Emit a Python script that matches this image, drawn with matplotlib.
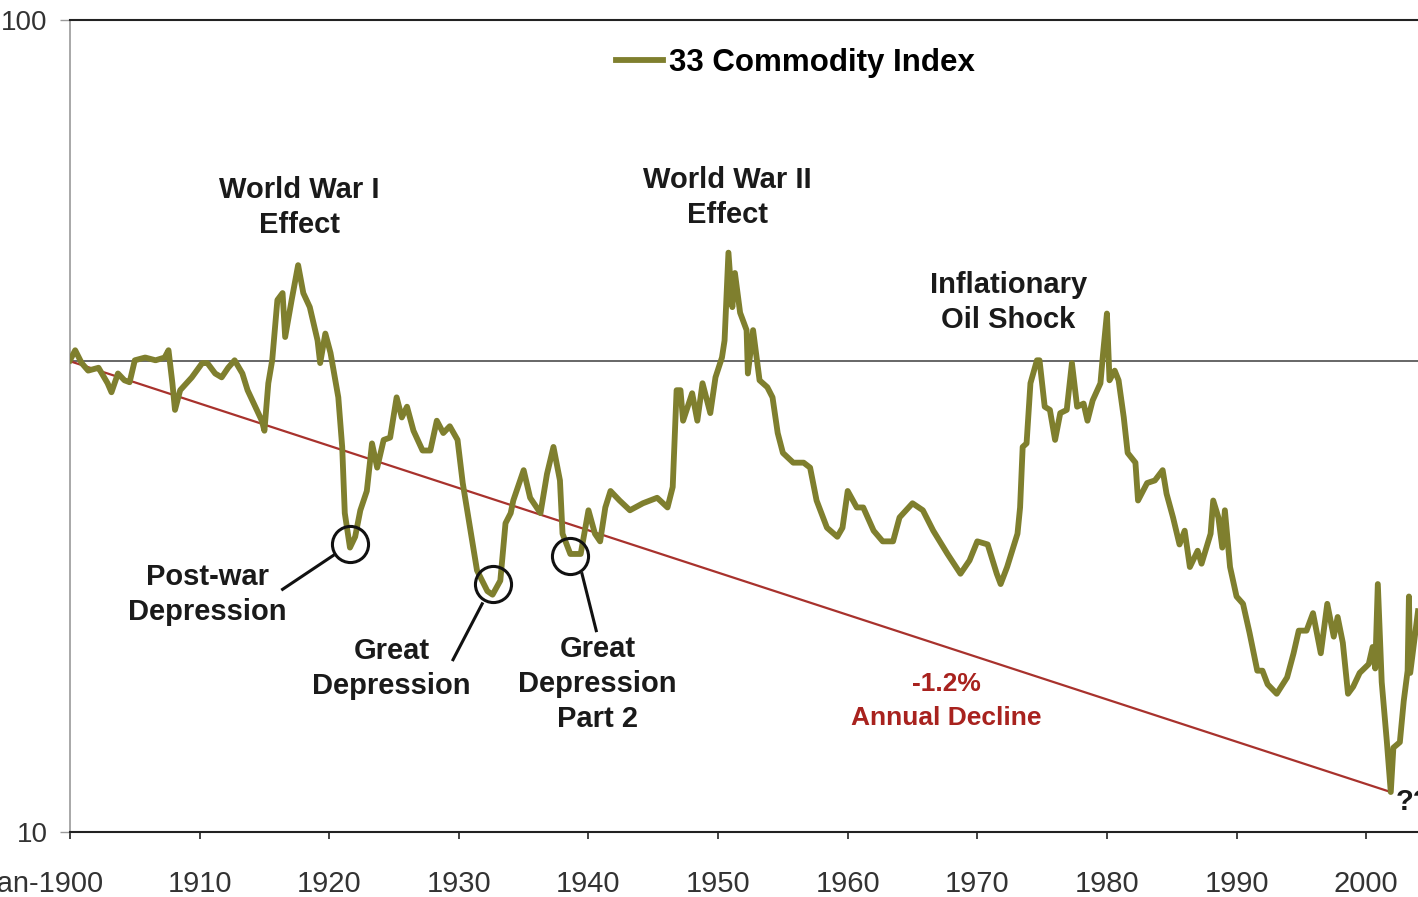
import numpy as np
import matplotlib.pyplot as plt
from matplotlib.ticker import NullLocator
from matplotlib.transforms import ScaledTranslation

plt.rcParams['font.family'] = ['Liberation Sans', 'DejaVu Sans']

# index levels (log scale)
years = [1900.0, 1900.4, 1900.9, 1901.4, 1902.2, 1902.9, 1903.2, 1903.7, 1904.2, 1904.6,
         1905.0, 1905.8, 1906.6, 1907.3, 1907.6, 1907.9, 1908.1, 1908.5, 1909.4, 1910.2,
         1910.6, 1911.2, 1911.7, 1912.2, 1912.7, 1913.3, 1913.7, 1914.3, 1914.8, 1915.0,
         1915.3, 1915.6, 1916.0, 1916.4, 1916.6, 1917.1, 1917.6, 1918.0, 1918.5, 1919.1,
         1919.3, 1919.7, 1920.1, 1920.3, 1920.7, 1921.0, 1921.2, 1921.6, 1922.0, 1922.4,
         1922.9, 1923.3, 1923.7, 1924.2, 1924.7, 1925.2, 1925.6, 1926.0, 1926.5, 1927.2,
         1927.8, 1928.3, 1928.8, 1929.3, 1929.9, 1930.3, 1930.9, 1931.4, 1932.2, 1932.6,
         1933.2, 1933.6, 1934.0, 1934.2, 1935.0, 1935.5, 1936.3, 1936.8, 1937.3, 1937.8,
         1938.0, 1938.6, 1939.4, 1940.0, 1940.5, 1940.9, 1941.3, 1941.7, 1942.4, 1943.2,
         1944.2, 1945.3, 1946.1, 1946.5, 1946.8, 1947.1, 1947.3, 1948.0, 1948.4, 1948.8,
         1949.4, 1949.8, 1950.3, 1950.5, 1950.8, 1951.1, 1951.3, 1951.7, 1952.2, 1952.3,
         1952.7, 1953.2, 1953.8, 1954.2, 1954.6, 1955.0, 1955.8, 1956.6, 1957.1, 1957.6,
         1958.4, 1959.2, 1959.6, 1960.0, 1960.7, 1961.2, 1962.0, 1962.7, 1963.5, 1964.0,
         1965.0, 1965.8, 1966.6, 1967.7, 1968.7, 1969.4, 1970.0, 1970.8, 1971.5, 1971.8,
         1972.3, 1973.1, 1973.3, 1973.5, 1973.8, 1974.1, 1974.6, 1974.8, 1975.2, 1975.6,
         1976.0, 1976.4, 1976.9, 1977.3, 1977.7, 1978.2, 1978.5, 1978.9, 1979.5, 1979.7,
         1980.0, 1980.2, 1980.6, 1980.9, 1981.3, 1981.6, 1982.2, 1982.4, 1983.1, 1983.7,
         1984.3, 1984.6, 1985.1, 1985.6, 1986.0, 1986.4, 1987.0, 1987.3, 1988.0, 1988.2,
         1988.6, 1988.9, 1989.1, 1989.5, 1990.0, 1990.5, 1991.0, 1991.6, 1992.0, 1992.4,
         1993.1, 1993.9, 1994.4, 1994.8, 1995.4, 1995.9, 1996.5, 1997.0, 1997.5, 1997.8,
         1998.2, 1998.6, 1999.0, 1999.5, 2000.2, 2000.5, 2000.7, 2000.9, 2001.2, 2001.6,
         2001.9, 2002.1, 2002.6, 2002.9, 2003.2, 2003.3, 2003.4, 2004.0]
values = [38.1, 39.2, 37.8, 37.0, 37.3, 35.7, 34.8, 36.7, 36.0, 35.8,
          38.1, 38.4, 38.1, 38.4, 39.2, 35.7, 33.1, 35.0, 36.3, 37.8,
          37.8, 36.7, 36.3, 37.3, 38.1, 36.7, 35.0, 33.4, 32.1, 31.2,
          35.7, 38.1, 45.2, 46.1, 40.7, 45.2, 49.9, 46.1, 44.3, 40.3,
          37.8, 41.1, 38.9, 37.3, 34.3, 29.8, 24.7, 22.4, 23.1, 24.9,
          26.3, 30.1, 28.1, 30.4, 30.6, 34.3, 32.4, 33.4, 31.2, 29.5,
          29.5, 32.1, 31.0, 31.6, 30.4, 26.9, 23.5, 21.0, 19.8, 19.6,
          20.4, 24.0, 24.7, 25.6, 27.9, 25.8, 24.7, 27.6, 29.8, 27.1,
          23.3, 22.0, 22.0, 24.9, 23.3, 22.8, 25.1, 26.3, 25.6, 24.9,
          25.4, 25.8, 25.1, 26.6, 35.0, 35.0, 32.1, 34.7, 32.1, 35.7,
          32.8, 36.3, 38.4, 40.3, 51.7, 44.3, 48.8, 43.6, 41.5, 36.7,
          41.5, 36.0, 35.3, 34.3, 31.0, 29.3, 28.5, 28.5, 28.1, 25.6,
          23.7, 23.1, 23.7, 26.3, 25.1, 25.1, 23.5, 22.8, 22.8, 24.4,
          25.4, 24.9, 23.5, 22.0, 20.8, 21.6, 22.8, 22.6, 20.8, 20.2,
          21.2, 23.3, 25.1, 29.8, 30.1, 35.7, 38.1, 38.1, 33.4, 33.1,
          30.4, 32.8, 33.1, 37.8, 33.4, 33.7, 32.1, 34.0, 35.7, 38.8,
          43.5, 36.0, 37.0, 36.0, 32.4, 29.3, 28.5, 25.6, 26.9, 27.1,
          27.9, 26.1, 24.4, 22.6, 23.5, 21.2, 22.2, 21.4, 23.3, 25.6,
          24.4, 22.4, 24.9, 21.2, 19.5, 19.1, 17.6, 15.8, 15.8, 15.2,
          14.8, 15.5, 16.6, 17.7, 17.7, 18.6, 16.6, 19.1, 17.4, 18.4,
          17.1, 14.8, 15.1, 15.7, 16.1, 16.9, 15.9, 20.2, 15.3, 12.9,
          11.2, 12.7, 12.9, 14.5, 15.8, 19.5, 15.7, 18.7]

base_level = 38.0
trend_years = [1900.0, 2001.9]
trend_vals = [38.0, 11.2]

tick_years = [1900, 1910, 1920, 1930, 1940, 1950, 1960, 1970, 1980, 1990, 2000]
tick_labels = ['Jan-1900', '1910', '1920', '1930', '1940', '1950', '1960',
               '1970', '1980', '1990', '2000']

years = np.array(years)
values = np.array(values)

fig = plt.figure(figsize=(14.18, 8.97), dpi=100)
ax = fig.add_axes([70 / 1418, 1 - 832 / 897, 1 - 70 / 1418, 812 / 897])

ax.set_yscale('log')
ax.set_ylim(10, 100)
ax.set_xlim(1900, 2004)

ax.axhline(base_level, color='#4d4d4d', lw=1.2, zorder=1)
ax.plot(trend_years, trend_vals, color='#a8322d', lw=1.6, zorder=2)
ax.plot(years, values, color='#7f7f2e', lw=4.2, solid_joinstyle='round',
        label='33 Commodity Index', zorder=3)

# spines / ticks
ax.spines['right'].set_visible(False)
ax.spines['top'].set_color('#222222')
ax.spines['top'].set_linewidth(1.5)
ax.spines['bottom'].set_color('#222222')
ax.spines['bottom'].set_linewidth(1.5)
ax.spines['left'].set_color('#999999')
ax.spines['left'].set_linewidth(1.2)

ax.set_xticks(tick_years)
ax.set_xticklabels(tick_labels)
ax.set_yticks([10, 100])
ax.set_yticklabels(['10', '100'])
ax.yaxis.set_minor_locator(NullLocator())
ax.tick_params(axis='x', length=5, width=1.2, color='#222222', pad=22,
               labelsize=21, labelcolor='#333333')
ax.tick_params(axis='y', length=7, width=1.0, color='#999999', pad=9,
               labelsize=20, labelcolor='#333333')

# first date label sits a bit left of its tick, cut by the edge
first = ax.get_xticklabels()[0]
first.set_transform(first.get_transform() +
                    ScaledTranslation(-0.27, 0, fig.dpi_scale_trans))

ax.legend(loc='upper center', bbox_to_anchor=(0.538, 1.0), frameon=False,
          handlelength=1.5, handletextpad=0.2,
          prop={'weight': 'bold', 'size': 22.5})

# annotations
txt = dict(ha='center', va='center', fontsize=21, fontweight='bold',
           color='#1a1a1a', linespacing=1.32)
ax.text(1917.7, 58.7, 'World War I\nEffect', **txt)
ax.text(1950.7, 60.5, 'World War II\nEffect', **txt)
ax.text(1972.4, 44.9, 'Inflationary\nOil Shock', **txt)
ax.text(1910.6, 19.6, 'Post-war\nDepression', **txt)
ax.text(1924.8, 15.9, 'Great\nDepression', **txt)
ax.text(1940.7, 15.2, 'Great\nDepression\nPart 2', **txt)
ax.text(1967.6, 14.5, '-1.2%\nAnnual Decline', ha='center', va='center',
        fontsize=19, fontweight='bold', color='#a8221e', linespacing=1.5)
ax.text(2002.3, 10.9, '??', ha='left', va='center', fontsize=21,
        fontweight='bold', color='#1a1a1a')

# circles around the troughs
windows = [(1920, 1923, 1.01), (1931, 1934, 1.03), (1938, 1940, 0.995)]
for lo, hi, f in windows:
    m = (years >= lo) & (years <= hi)
    i = np.argmin(values[m])
    ax.plot(years[m][i], values[m][i] * f, marker='o', ms=26, mfc='none',
            mec='#111111', mew=2.2, zorder=4)

# leader lines
ax.plot([1916.4, 1920.3], [19.9, 21.9], color='#111111', lw=2.2)
ax.plot([1929.55, 1931.8], [16.3, 19.1], color='#111111', lw=2.2)
ax.plot([1940.6, 1939.5], [17.7, 20.8], color='#111111', lw=2.2)

fig.savefig('out.png', dpi=100)
